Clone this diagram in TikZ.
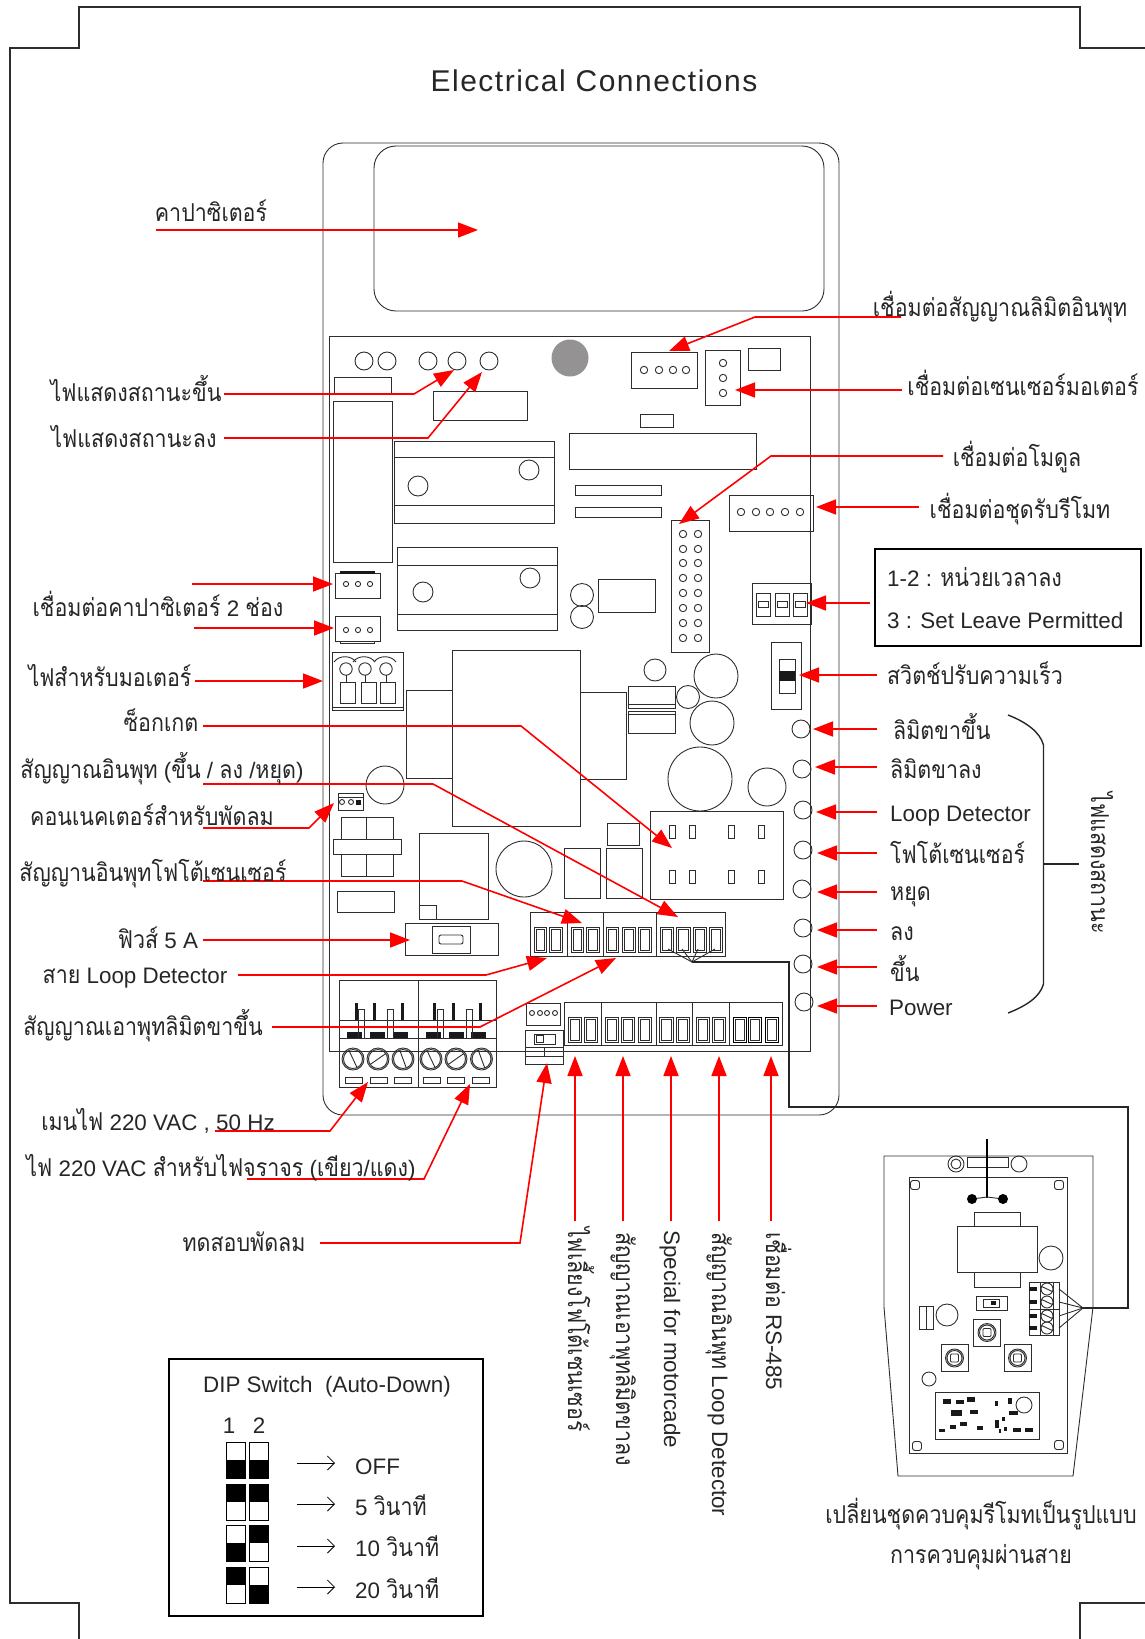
\documentclass[tikz,border=0pt]{standalone}
\usepackage{fontspec}
\usepackage{xcolor}
\usepackage{tikz}
\usetikzlibrary{arrows.meta, positioning, calc}
\setmainfont{Liberation Sans}
\newfontfamily\thaifont[Script=Thai,Scale=1.1,FakeStretch=0.87]{Loma}
\newfontfamily\titlefont[LetterSpace=5]{Liberation Sans}
\newcommand{\tht}[1]{{\thaifont #1}}
\definecolor{inkgrey}{HTML}{2E2C2C}
\definecolor{blobgrey}{HTML}{949292}
\tikzset{
  part/.style={draw=inkgrey, line width=0.9pt},
  wire/.style={draw=black!85, line width=1.4pt},
  ptr/.style={red, line width=1.6pt, -{Triangle[length=20pt,width=15pt]}},
  lblbase/.style={inner sep=0pt, anchor=base, text=black!85, font=\fontsize{22.4}{26}\selectfont},
  lbl/.style={lblbase, yshift=-8pt},
  vlbl/.style={lblbase, rotate=-90, anchor=base west},
  titlelbl/.style={inner sep=0pt, anchor=base, text=black!85, font=\fontsize{30}{34}\selectfont\titlefont},
  thinarrow/.style={black, line width=0.8pt, -{Straight Barb[length=7pt,width=14pt]}}
}

\begin{document}
\begin{tikzpicture}[x=1pt,y=-1pt]
    \useasboundingbox (0,0) rectangle (1145,1639);

    % Page frame
    \draw[draw=inkgrey, line width=1.2pt] (79,1639) -- (79,1603) -- (10,1603) -- (10,48) -- (79,48) -- (79,7) -- (1080,7) -- (1080,48) -- (1145,48);
    \draw[draw=inkgrey, line width=1.2pt] (1145,1603) -- (1080,1603) -- (1080,1639);
    \node[titlelbl] (title) at (594,91) {Electrical Connections};

    % Housing and capacitor
    \draw[part, rounded corners=20pt] (323,143) rectangle (839,1115);
    \draw[part, rounded corners=22pt] (374,146) rectangle (824,311);
    \draw[part] (329,336) rectangle (810,1051);

    % LEDs along the top
    \foreach \cx in {364,387,428,457,489}
        \draw[part] (\cx,361) circle[radius=9];
    \fill[blobgrey] (570,358) circle[radius=18.5];

    % Plain blocks
    \foreach \xa/\ya/\xb/\yb in {334/377/391/394, 333/401/392/562, 433/391/527/420, 748/348/780/370, 640/414/673/427,
        569/433/756/469, 575/485/661/495, 575/507/661/517, 598/579/655/612, 452/650/580/826, 406/690/452/778,
        580/692/626/779, 607/823/639/845, 606/848/642/898, 564/848/600/898, 419/833/488/919, 419/905/436/919,
        337/891/394/912, 771/642/801/709, 405/923/498/955, 432/926/470/953}
        \draw[part] (\xa,\ya) rectangle (\xb,\yb);

    % Limit and sensor connectors
    \draw[part] (631,352) rectangle (697,388);
    \foreach \cx in {644,659,673,686}
        \draw[part] (\cx,370) circle[radius=3.7];
    \draw[part] (705,350) rectangle (740,405);
    \foreach \cy in {363,378,393}
        \draw[part] (723,\cy) circle[radius=3.7];

    % Heat sinks
    \draw[part] (394,441) rectangle (554,523);
    \draw[part] (394,457) -- (554,457) (394,505) -- (554,505);
    \draw[part] (418,486) circle[radius=10] (529,470) circle[radius=10];
    \draw[part] (397,547) rectangle (557,630);
    \draw[part] (397,565) -- (557,565) (397,614) -- (557,614);
    \draw[part] (423,592) circle[radius=10] (530,578) circle[radius=10];

    % Module header
    \draw[part] (671,520) rectangle (709,652);
    \foreach \cy in {534,549,563,578,593,608,623,638}
        \draw[part] (683,\cy) circle[radius=3.7] (698,\cy) circle[radius=3.7];

    % Remote connector
    \draw[part] (729,495) rectangle (813,531);
    \foreach \cx in {741,756,770,785,800}
        \draw[part] (\cx,512) circle[radius=3.7];

    % Three way DIP
    \draw[part] (752,583) rectangle (811,624);
    \foreach \cx in {756,775,793} {
        \draw[part] (\cx,593) rectangle (\cx+14,616);
        \draw[part] (\cx+2,601) rectangle (\cx+12,607);
    }

    % Speed switch
    \draw[part] (779,659) rectangle (795,693);
    \fill[black!90] (779,671) rectangle (795,681);

    % Capacitor plugs
    \draw[part] (335,573) rectangle (380,598);
    \fill[black!90] (340,571) rectangle (375,574);
    \draw[part] (335,616) rectangle (380,641);
    \draw[part] (340,641) rectangle (374,643.5);
    \foreach \cx in {346,358,370}
        \draw[part] (\cx,584) circle[radius=2.6] (\cx,630) circle[radius=2.6];

    % Motor terminal
    \draw[part] (332,652) rectangle (403,710);
    \draw[part] (332,707) -- (403,707);
    \foreach \cx/\xa in {346/340,365/361,386/380} {
        \draw[part] (\cx,669) circle[radius=6.2];
        \draw[part] (\cx-12,662) to[bend left=55] (\cx+10,662);
        \draw[part] (\cx,675) -- (\cx,682);
        \draw[part] (\xa,682) rectangle (\xa+15,703);
    }

    % Round parts
    \foreach \cx/\cy/\rr in {582/595/11.5, 582/617/11.5, 655/670/11, 688/697/11.5, 716/676/22, 712/723/22,
        700/779/32, 767/787/19, 385/785/19, 524/869/28}
        \draw[part] (\cx,\cy) circle[radius=\rr];

    % Status LEDs
    \foreach \cy/\cx in {729/801,769/802,810/803,850/803,889/802,928/803,964/803,1002/804}
        \draw[part] (\cx,\cy) circle[radius=9];

    % Two pairs of bars
    \draw[part] (628,686) rectangle (675,708) (628,704) -- (675,704);
    \draw[part] (628,711) rectangle (675,733) (628,714) -- (675,714);

    % Fan connector and relay
    \draw[part] (338,793) rectangle (363,810) (338,797) -- (363,797);
    \draw[part] (342,802) circle[radius=2.5] (351,802) circle[radius=2.5];
    \fill[black!90] (356,799.5) rectangle (361,804.5);
    \draw[part] (341,817) rectangle (393,876) (366.5,817) -- (366.5,876);
    \draw[part, fill=white] (333,839) rectangle (401,854);

    % Fuse
    \draw[part, rounded corners=2pt] (439,935) rectangle (463,944);

    % Socket
    \draw[part] (650,811) rectangle (783,899);
    \foreach \xa in {669,689,728,758}
        \draw[part] (\xa,825) rectangle (\xa+6.5,838) (\xa,870) rectangle (\xa+6.5,883);

    % Upper terminals
    \foreach \xa/\xb in {530/567,567/603,603/656.5,656.5/725}
        \draw[part] (\xa,912) rectangle (\xb,956);
    \foreach \xa/\xb in {534/546,549/562,571/583,586/599,606/618,622/635,638/651,660/673,676/690,693/706,709/722} {
        \draw[part] (\xa,927) rectangle (\xb,952);
        \draw[part] (\xa+2,929) rectangle (\xb-2,950);
    }
    \foreach \cx in {668,682,698,715}
        \draw[part] (692,962) -- (\cx,949);

    % Lower terminals
    \foreach \xa/\xb in {564.5/601,601/656.5,656.5/692.6,692.6/729,729/782.5}
        \draw[part] (\xa,1002) rectangle (\xb,1045);
    \foreach \xa/\xb in {568/581,584/597,605/618,621/634,638/651,659/673,676/689,696/709,712/725} {
        \draw[part] (\xa,1017) rectangle (\xb,1042);
        \draw[part] (\xa+2,1019) rectangle (\xb-2,1040);
    }
    \foreach \xa/\xb in {733/746,748/761,765/778} {
        \draw[draw=black, line width=1pt] (\xa,1017) rectangle (\xb,1042);
        \draw[part] (\xa+2,1019) rectangle (\xb-2,1040);
    }

    % Small plug and test switch
    \draw[part] (526,1003) rectangle (560,1025);
    \foreach \cx in {532,540,547,555}
        \draw[part] (\cx,1013) circle[radius=2.5];
    \draw[part] (525.6,1030) rectangle (563.5,1064);
    \draw[part] (525.6,1047) -- (563.5,1047) (525.6,1056) -- (563.5,1056) (544.5,1047) -- (544.5,1056);
    \draw[part] (534,1034) rectangle (555,1044) (536,1035.5) rectangle (543,1042.5);

    % Mains block
    \draw[part] (339,980) rectangle (496,1087);
    \draw[part] (418,980) -- (418,1087) (339,1020) -- (496,1020) (339,1038) -- (496,1038);
    \foreach \xa in {347,370,393,426,449,471}
        \fill[black!90] (\xa,1032) rectangle (\xa+15,1038);
    \foreach \cx in {356,374,402,434,453,480}
        \fill[black!90] (\cx-1.5,1003) rectangle (\cx+1.5,1020);
    \foreach \xa in {358.5,387.5,437,466}
        \draw[part] (\xa,1009) rectangle (\xa+6,1038);
    \foreach \cx/\ang in {353/65,378/-35,403/70,431/65,456/-35,481.5/70} {
        \draw[part] (\cx,1059) circle[radius=11] (\cx,1059) circle[radius=9.5];
        \draw[part] (\cx,1059) +(\ang:9.5) -- +(\ang+180:9.5);
    }
    \foreach \xa in {345,370,394,423,447,472}
        \draw[part] (\xa,1077) rectangle (\xa+17.5,1083);

    % Wire to the remote board
    \coordinate (wireA) at (692,962);
    \coordinate (wireB) at (1083,1308);
    \draw[wire] (wireA) -- (789,962) -- (789,1107) -- (1128,1107) -- (1128,1308) -- (wireB);

    % Remote board
    \draw[part] (884,1156) -- (1093,1156) -- (1093,1307) -- (1073,1476) -- (898,1476) -- (884,1307) -- cycle;
    \draw[part] (956,1164) circle[radius=8] (956,1164) circle[radius=5] (1019,1164) circle[radius=8];
    \draw[part] (967,1157) rectangle (1008,1167);
    \draw[part] (909,1177) rectangle (1067,1453);
    \foreach \cx/\cy in {915/1185,1059/1185,917/1446,1059/1445}
        \draw[part, rounded corners=2.5pt] (\cx-4.5,\cy-4.5) rectangle (\cx+4.5,\cy+4.5);
    \draw[draw=black, line width=2pt] (987,1139) -- (987,1198);
    \draw[part] (972,1199) -- (987,1197) -- (1003,1199);
    \fill[black] (972,1199) circle[radius=5] (1003,1199) circle[radius=5];
    \draw[part] (957,1226) rectangle (1037,1272) (974,1212) rectangle (1020,1226) (974,1272) rectangle (1020,1287);
    \draw[part] (1051,1258) circle[radius=12] (947,1315) circle[radius=11] (929,1379) circle[radius=7] (1024,1405) circle[radius=8];
    \draw[part] (1029,1282) rectangle (1059,1335) (1029,1309) -- (1059,1309) (1040,1282) -- (1040,1335) (1053,1282) -- (1053,1335);
    \foreach \cy in {1289,1302,1316,1328} {
        \draw[part] (1047,\cy) circle[radius=6];
        \draw[part] (1047,\cy) +(25:6) -- +(205:6);
        \fill[black!90] (1029,\cy-2) rectangle (1037,\cy+2);
        \draw[part] (1083,1308) -- (1059,\cy);
    }
    \draw[part] (976,1296) rectangle (1007,1310) (983,1299) rectangle (999,1307);
    \fill[black!90] (991,1301) rectangle (996,1305);
    \draw[part] (919,1306) rectangle (933,1329) (926,1306) -- (926,1329);
    \foreach \cx/\cy in {987/1332.5,954.5/1358,1017.5/1358} {
        \draw[part] (\cx-13.5,\cy-13.5) rectangle (\cx+13.5,\cy+13.5);
        \draw[part] (\cx,\cy) circle[radius=9] (\cx,\cy) circle[radius=7.5];
        \draw[part, rounded corners=1pt] (\cx-4,\cy-4) rectangle (\cx+4,\cy+4);
    }
    \draw[part] (935,1392) rectangle (1039,1439);
    \foreach \xa/\ya/\xb/\yb in {943/1399/951/1403.5, 956/1400/963.5/1403.5, 967/1397/975/1401.5, 994.5/1401/997.5/1405.7,
        1008/1398/1012/1404, 951/1410/962/1416, 969.5/1410/978/1413.5, 1009/1411/1017.5/1415, 1002/1417/1005/1421,
        995/1419.5/999/1427.5, 960/1422/967/1426, 950/1425/956/1429, 939/1428.5/945/1432, 977/1426/983/1430,
        999/1429/1001/1433, 1004/1427/1006.7/1431, 1013/1428/1021/1432, 1025/1428/1033/1432}
        \fill[black!90] (\xa,\ya) rectangle (\xb,\yb);

    % Arrow ends
    \coordinate (capS) at (156,230);       \coordinate (capT) at (478,230);
    \coordinate (limS) at (901,317);       \coordinate (limE) at (755,317);   \coordinate (limT) at (669,351);
    \coordinate (senS) at (902,390);       \coordinate (senT) at (735,390);
    \coordinate (modS) at (943,456);       \coordinate (modE) at (771,456);   \coordinate (modT) at (679,524);
    \coordinate (remS) at (919,507);       \coordinate (remT) at (816,507);
    \coordinate (dipS) at (870,603);       \coordinate (dipT) at (806,603);
    \coordinate (spdS) at (877,675);       \coordinate (spdT) at (799,675);
    \coordinate (upS) at (224,394);        \coordinate (upE) at (414,394);    \coordinate (upT) at (454,370);
    \coordinate (dnS) at (224,438);        \coordinate (dnE) at (428,438);    \coordinate (dnT) at (482,372);
    \coordinate (capaS) at (192,584);      \coordinate (capaT) at (333,584);
    \coordinate (capbS) at (194,628);      \coordinate (capbT) at (334,628);
    \coordinate (motS) at (195,681);       \coordinate (motT) at (323,681);
    \coordinate (sokS) at (203,726);       \coordinate (sokE) at (521,726);   \coordinate (sokT) at (672,848);
    \coordinate (inpS) at (203,784);       \coordinate (inpE) at (433,784);   \coordinate (inpT) at (678,917);
    \coordinate (fanS) at (203,828);       \coordinate (fanE) at (309,828);   \coordinate (fanT) at (334,803);
    \coordinate (phoS) at (203,881);       \coordinate (phoE) at (462,881);   \coordinate (phoT) at (582,923);
    \coordinate (fusS) at (203,940);       \coordinate (fusT) at (410,940);
    \coordinate (lopS) at (238,975);       \coordinate (lopE) at (486,975);   \coordinate (lopT) at (547,958);
    \coordinate (outS) at (272,1027);      \coordinate (outE) at (480,1027);  \coordinate (outT) at (616,958);
    \coordinate (mnsS) at (215,1131);      \coordinate (mnsE) at (330,1131);  \coordinate (mnsT) at (368,1082);
    \coordinate (tfcS) at (247,1179);      \coordinate (tfcE) at (424,1179);  \coordinate (tfcT) at (470,1084);
    \coordinate (tstS) at (320,1243);      \coordinate (tstE) at (520,1243);  \coordinate (tstT) at (547,1063);

    % Red pointers
    \draw[ptr] (capS) -- (capT);
    \draw[ptr] (limS) -- (limE) -- (limT);
    \draw[ptr] (senS) -- (senT);
    \draw[ptr] (modS) -- (modE) -- (modT);
    \draw[ptr] (remS) -- (remT);
    \draw[ptr] (dipS) -- (dipT);
    \draw[ptr] (spdS) -- (spdT);
    \draw[ptr] (upS) -- (upE) -- (upT);
    \draw[ptr] (dnS) -- (dnE) -- (dnT);
    \draw[ptr] (capaS) -- (capaT);
    \draw[ptr] (capbS) -- (capbT);
    \draw[ptr] (motS) -- (motT);
    \draw[ptr] (sokS) -- (sokE) -- (sokT);
    \draw[ptr] (inpS) -- (inpE) -- (inpT);
    \draw[ptr] (fanS) -- (fanE) -- (fanT);
    \draw[ptr] (phoS) -- (phoE) -- (phoT);
    \draw[ptr] (fusS) -- (fusT);
    \draw[ptr] (lopS) -- (lopE) -- (lopT);
    \draw[ptr] (outS) -- (outE) -- (outT);
    \draw[ptr] (mnsS) -- (mnsE) -- (mnsT);
    \draw[ptr] (tfcS) -- (tfcE) -- (tfcT);
    \draw[ptr] (tstS) -- (tstE) -- (tstT);

    % Status LED pointers
    \foreach \cy/\tipx in {729/813,767/815,812/816,853/817,892/817,930/817,967/817,1006/817} {
        \coordinate (ledS\cy) at (877,\cy);
        \coordinate (ledT\cy) at (\tipx,\cy);
        \draw[ptr] (ledS\cy) -- (ledT\cy);
    }

    % Bottom pointers
    \foreach \cx in {575,623,671,719,771} {
        \coordinate (botS\cx) at (\cx,1221);
        \coordinate (botT\cx) at (\cx,1056);
        \draw[ptr] (botS\cx) -- (botT\cx);
    }

    % Brace for the LEDs
    \coordinate (brcA) at (1008,715);
    \coordinate (brcB) at (1043.5,745);
    \coordinate (brcC) at (1043.5,984);
    \coordinate (brcD) at (1008,1013);
    \coordinate (brcM) at (1043.5,864);
    \coordinate (brcN) at (1079,864);
    \draw[wire] (brcA) .. controls (1026,722) and (1040,732) .. (brcB) -- (brcC) .. controls (1040,997) and (1026,1006) .. (brcD);
    \draw[wire] (brcM) -- (brcN);

    % Left labels
    \node[lbl] (lblCap) at (211,213) {\tht{คาปาซิเตอร์}};
    \node[lbl] (lblUp) at (136,393) {\tht{ไฟแสดงสถานะขึ้น}};
    \node[lbl] (lblDn) at (134,439) {\tht{ไฟแสดงสถานะลง}};
    \node[lbl] (lblCapTwo) at (158,608) {\tht{เชื่อมต่อคาปาซิเตอร์} 2 \tht{ช่อง}};
    \node[lbl] (lblMot) at (110,678) {\tht{ไฟสำหรับมอเตอร์}};
    \node[lbl] (lblSok) at (161,723) {\tht{ซ็อกเกต}};
    \node[lbl] (lblInp) at (162,770) {\tht{สัญญาณอินพุท} (\tht{ขึ้น} / \tht{ลง} /\tht{หยุด})};
    \node[lbl] (lblFan) at (152,817) {\tht{คอนเนคเตอร์สำหรับพัดลม}};
    \node[lbl] (lblPho) at (153,873) {\tht{สัญญานอินพุทโฟโต้เซนเซอร์}};
    \node[lbl] (lblFus) at (158,940) {\tht{ฟิวส์} 5 A};
    \node[lbl] (lblLop) at (135,975) {\tht{สาย} Loop Detector};
    \node[lbl] (lblOut) at (143,1027) {\tht{สัญญาณเอาพุทลิมิตขาขึ้น}};
    \node[lbl] (lblMns) at (158,1122) {\tht{เมนไฟ} 220 VAC , 50 Hz};
    \node[lbl] (lblTfc) at (221,1168) {\tht{ไฟ} 220 VAC \tht{สำหรับไฟจราจร} (\tht{เขียว}/\tht{แดง})};
    \node[lbl] (lblTst) at (244,1243) {\tht{ทดสอบพัดลม}};

    % Right labels
    \node[lbl] (lblLim) at (1000,308) {\tht{เชื่อมต่อสัญญาณลิมิตอินพุท}};
    \node[lbl] (lblSen) at (1023,387) {\tht{เชื่อมต่อเซนเซอร์มอเตอร์}};
    \node[lbl] (lblMod) at (1017,458) {\tht{เชื่อมต่อโมดูล}};
    \node[lbl] (lblRem) at (1020,510) {\tht{เชื่อมต่อชุดรับรีโมท}};
    \draw[draw=black, line width=1.2pt] (875,549) rectangle (1141,646);
    \node[lbl, anchor=base west] (lblUnit) at (887,578) {1-2 : \tht{หน่วยเวลาลง}};
    \node[lbl, anchor=base west] (lblSet) at (887,620) {3 : Set Leave Permitted};
    \node[lbl] (lblSpd) at (975,676) {\tht{สวิตช์ปรับความเร็ว}};
    \node[lbl, anchor=base west] (ledUp) at (893,731) {\tht{ลิมิตขาขึ้น}};
    \node[lbl, anchor=base west] (ledDn) at (890,770) {\tht{ลิมิตขาลง}};
    \node[lbl, anchor=base west] (ledLop) at (890,813) {Loop Detector};
    \node[lbl, anchor=base west] (ledPho) at (890,855) {\tht{โฟโต้เซนเซอร์}};
    \node[lbl, anchor=base west] (ledStop) at (890,892) {\tht{หยุด}};
    \node[lbl, anchor=base west] (ledDown) at (890,932) {\tht{ลง}};
    \node[lbl, anchor=base west] (ledRise) at (890,973) {\tht{ขึ้น}};
    \node[lbl, anchor=base west] (ledPow) at (889,1007) {Power};
    \node[vlbl, anchor=base] (lblLed) at (1091,863) {\tht{ไฟแสดงสถานะ}};

    % Bottom labels
    \node[vlbl] (botFan) at (568,1227) {\tht{ไฟเลี้ยงโฟโต้เซนเซอร์}};
    \node[vlbl] (botOut) at (616,1232) {\tht{สัญญาณเอาพุทลิมิตขาลง}};
    \node[vlbl] (botSpc) at (664,1230) {Special for motorcade};
    \node[vlbl] (botLop) at (712,1232) {\tht{สัญญาณอินพุท} Loop Detector};
    \node[vlbl] (botRs) at (766,1232) {\tht{เชื่อมต่อ} RS-485};

    % Remote caption
    \node[lbl] (capOne) at (981,1515) {\tht{เปลี่ยนชุดควบคุมรีโมทเป็นรูปแบบ}};
    \node[lbl] (capTwo) at (981,1555) {\tht{การควบคุมผ่านสาย}};

    % DIP legend
    \draw[draw=black, line width=1.2pt] (169,1359) rectangle (483,1616);
    \node[lbl] (dipTitle) at (327,1384) {DIP Switch~~(Auto-Down)};
    \node[lbl] (dipOne) at (229,1425) {1};
    \node[lbl] (dipTwo) at (259,1425) {2};
    % row top, upper half black in column one, column two
    \foreach \rowy/\blkA/\blkB in {1442/18/18,1484/0/0,1525/18/0,1567/0/18} {
        \fill[black] (226,\rowy+\blkA) rectangle (245,\rowy+\blkA+18);
        \fill[black] (249,\rowy+\blkB) rectangle (268,\rowy+\blkB+18);
        \draw[draw=black, line width=1pt] (226,\rowy) rectangle (245,\rowy+36) (249,\rowy) rectangle (268,\rowy+36);
    }
    \node[lbl, anchor=base west] (dipOff) at (355,1466) {OFF};
    \node[lbl, anchor=base west] (dipFive) at (355,1507) {5 \tht{วินาที}};
    \node[lbl, anchor=base west] (dipTen) at (355,1548) {10 \tht{วินาที}};
    \node[lbl, anchor=base west] (dipTwenty) at (355,1590) {20 \tht{วินาที}};
    \foreach \cy/\rowname in {1463/Off,1504/Five,1546/Ten,1587/Twenty} {
        \coordinate (dipA\rowname) at (297,\cy);
        \coordinate (dipB\rowname) at (335,\cy);
        \draw[thinarrow] (dipA\rowname) -- (dipB\rowname);
    }
\end{tikzpicture}
\end{document}
